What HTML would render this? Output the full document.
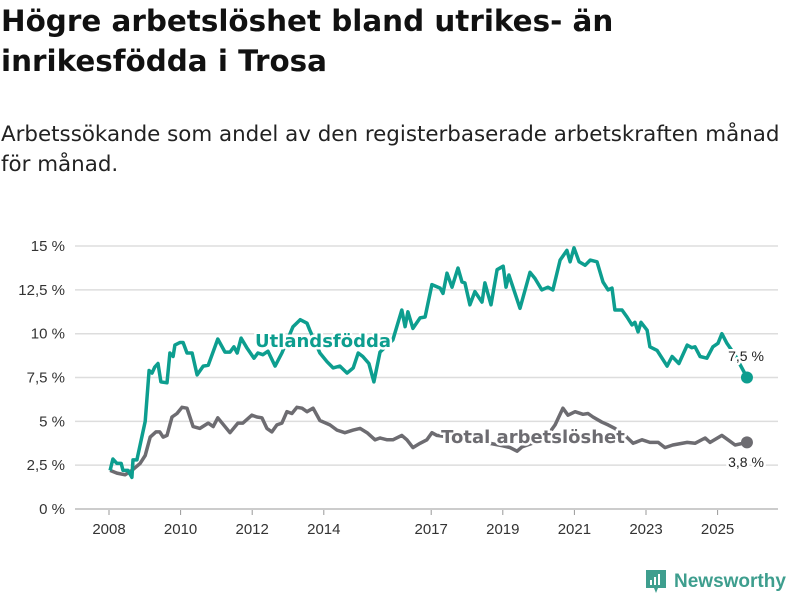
<!DOCTYPE html>
<html><head><meta charset="utf-8"><style>
body{margin:0;background:#fff;width:800px;height:600px;overflow:hidden;font-family:"Liberation Sans",sans-serif;}
#title{position:absolute;left:1px;top:1px;font-family:"DejaVu Sans",sans-serif;font-size:29.4px;font-weight:bold;line-height:40px;color:#111;margin:0;white-space:nowrap}
#sub{position:absolute;left:1px;top:120px;font-family:"DejaVu Sans",sans-serif;font-size:21.4px;line-height:30px;color:#222;margin:0;white-space:nowrap}
svg{position:absolute;left:0;top:0}
</style></head><body>
<h1 id="title">Högre arbetslöshet bland utrikes- än<br>inrikesfödda i Trosa</h1>
<p id="sub">Arbetssökande som andel av den registerbaserade arbetskraften månad<br>för månad.</p>
<svg id="chart" width="800" height="600"></svg>
<div style="position:absolute;left:644px;top:569px;display:flex;align-items:center;">
<svg width="24" height="26" style="position:static" viewBox="0 0 24 26"><path d="M2 1h20v18H14l-2 5-2-5H2z" fill="#3e9e8e"/><rect x="6" y="11" width="2" height="5" fill="#fff"/><rect x="10" y="8" width="2" height="8" fill="#fff"/><rect x="14" y="5" width="2" height="11" fill="#fff"/></svg>
<span style="margin-left:6px;font-size:19px;color:#3e9e8e;font-weight:bold">Newsworthy</span></div>
<script>
const utlYears=[2008.03,2008.11,2008.22,2008.34,2008.39,2008.53,2008.64,2008.67,2008.78,2009.01,2009.12,2009.20,2009.28,2009.37,2009.45,2009.62,2009.70,2009.79,2009.84,2009.98,2010.07,2010.18,2010.32,2010.46,2010.63,2010.77,2011.04,2011.24,2011.38,2011.49,2011.58,2011.69,2011.85,2012.05,2012.16,2012.30,2012.44,2012.64,2012.83,2013.14,2013.34,2013.53,2013.61,2013.89,2014.09,2014.26,2014.45,2014.65,2014.82,2014.96,2015.09,2015.26,2015.40,2015.57,2015.93,2016.18,2016.27,2016.35,2016.49,2016.69,2016.83,2017.02,2017.25,2017.33,2017.44,2017.58,2017.75,2017.86,2017.94,2018.08,2018.22,2018.42,2018.50,2018.67,2018.84,2019.01,2019.09,2019.17,2019.48,2019.76,2019.90,2020.09,2020.26,2020.40,2020.60,2020.79,2020.88,2020.99,2021.13,2021.30,2021.44,2021.63,2021.80,2021.94,2022.05,2022.13,2022.33,2022.47,2022.61,2022.69,2022.78,2022.86,2023.03,2023.11,2023.31,2023.59,2023.73,2023.92,2024.15,2024.28,2024.37,2024.51,2024.70,2024.87,2025.01,2025.12,2025.26,2025.48,2025.82];
const utlValues=[2.2,2.85,2.6,2.6,2.2,2.2,1.8,2.8,2.8,5.0,7.9,7.75,8.1,8.3,7.25,7.2,8.9,8.7,9.35,9.5,9.5,8.9,8.9,7.65,8.15,8.2,9.7,8.95,8.95,9.25,8.9,9.75,9.2,8.6,8.9,8.8,9.0,8.15,8.9,10.4,10.8,10.6,10.2,8.9,8.4,8.05,8.15,7.75,8.05,8.9,8.7,8.3,7.25,8.95,9.65,11.35,10.4,11.25,10.3,10.9,10.95,12.8,12.6,12.3,13.45,12.65,13.75,12.95,12.9,11.65,12.4,11.8,12.9,11.65,13.65,13.85,12.65,13.35,11.45,13.5,13.15,12.5,12.65,12.5,14.2,14.75,14.1,14.9,14.1,13.9,14.2,14.1,12.95,12.5,12.6,11.35,11.35,10.95,10.5,10.65,10.1,10.65,10.2,9.25,9.05,8.15,8.7,8.3,9.35,9.2,9.25,8.7,8.6,9.25,9.45,10.0,9.45,8.8,7.5];
const totYears=[2008.03,2008.22,2008.45,2008.64,2008.87,2009.01,2009.15,2009.31,2009.42,2009.51,2009.62,2009.76,2009.90,2010.04,2010.18,2010.35,2010.54,2010.77,2010.91,2011.04,2011.38,2011.60,2011.74,2011.99,2012.13,2012.27,2012.41,2012.55,2012.69,2012.83,2012.97,2013.11,2013.25,2013.39,2013.53,2013.70,2013.89,2014.17,2014.37,2014.59,2014.82,2015.01,2015.21,2015.43,2015.57,2015.77,2015.93,2016.18,2016.32,2016.49,2016.69,2016.88,2017.02,2017.16,2017.53,2018.0,2018.5,2019.01,2019.20,2019.40,2019.54,2019.90,2020.18,2020.46,2020.68,2020.82,2021.02,2021.24,2021.38,2021.52,2021.77,2021.94,2022.13,2022.41,2022.64,2022.89,2023.11,2023.34,2023.53,2023.75,2024.15,2024.37,2024.65,2024.79,2025.12,2025.29,2025.49,2025.82];
const totValues=[2.2,2.05,1.95,2.2,2.6,3.05,4.1,4.4,4.4,4.1,4.2,5.25,5.45,5.8,5.75,4.7,4.6,4.9,4.7,5.2,4.35,4.9,4.9,5.35,5.25,5.2,4.6,4.4,4.8,4.9,5.55,5.45,5.8,5.75,5.55,5.75,5.05,4.8,4.5,4.35,4.5,4.6,4.35,3.95,4.05,3.95,3.95,4.2,3.95,3.5,3.75,3.95,4.35,4.2,4.1,4.0,3.8,3.6,3.5,3.3,3.55,3.8,4.0,4.8,5.75,5.35,5.55,5.4,5.45,5.25,4.95,4.8,4.6,4.2,3.75,3.95,3.8,3.8,3.5,3.65,3.8,3.75,4.05,3.8,4.2,3.95,3.65,3.8];
const yTicks=[0,2.5,5,7.5,10,12.5,15];
const yTickLabels=["0 %","2,5 %","5 %","7,5 %","10 %","12,5 %","15 %"];
const xTicks=[2008,2010,2012,2014,2017,2019,2021,2023,2025];
const NS="http://www.w3.org/2000/svg";
const svg=document.getElementById('chart');
const x=y=>109+(y-2008)*35.8;
const yS=v=>509-v*17.53;
function mk(t,a,p){const e=document.createElementNS(NS,t);for(const k in a)e.setAttribute(k,a[k]);(p||svg).appendChild(e);return e;}
yTicks.forEach((t,i)=>{
 const g=mk('line',{x1:75,x2:778,y1:yS(t),y2:yS(t),stroke:t===0?'#bbb':'#ddd','stroke-width':1.5});
 
 
 const l=mk('text',{x:65,y:yS(t)+5,'text-anchor':'end','font-size':15,fill:'#333'});
 l.textContent=yTickLabels[i];
 
 
});
xTicks.forEach(t=>{
 const tk=mk('line',{x1:x(t),x2:x(t),y1:510,y2:515,stroke:'#999','stroke-width':1});
 
 
 const l=mk('text',{x:x(t),y:534,'text-anchor':'middle','font-size':15,fill:'#333'});
 l.textContent=t;
 
 
});
function line(xs,vs,col,name){
 const d=xs.map((t,i)=>(i?'L':'M')+x(t).toFixed(1)+','+yS(vs[i]).toFixed(1)).join('');
 const p=mk('path',{d:d,fill:'none',stroke:col,'stroke-width':3.5,'stroke-linejoin':'round'});
 
 
 const n=xs.length-1;
 const c=mk('circle',{cx:x(xs[n]),cy:yS(vs[n]),r:6,fill:col});
 
 
}
line(totYears,totValues,'#6d6c71','total-line');
line(utlYears,utlValues,'#0d9e8f','utlandsfodda-line');
function label(txt,xx,yy,col,size,bold,name,fam){
 const t=mk('text',{x:xx,y:yy,'text-anchor':'middle','font-size':size,'font-weight':bold?'bold':'normal',fill:col,stroke:'#fff','stroke-width':5,'paint-order':'stroke','stroke-linejoin':'round','font-family':fam||'Liberation Sans, sans-serif'});
 t.textContent=txt;
 
 
}
label('Utlandsfödda',323,347,'#0d9e8f',18,true,'utlandsfodda-label','DejaVu Sans, sans-serif');
label('Total arbetslöshet',533,443,'#6d6c71',18,true,'total-label','DejaVu Sans, sans-serif');
label('7,5 %',746,361,'#222',14,false,'utlandsfodda-end-value');
label('3,8 %',746,467,'#222',14,false,'total-end-value');
</script>
</body></html>
